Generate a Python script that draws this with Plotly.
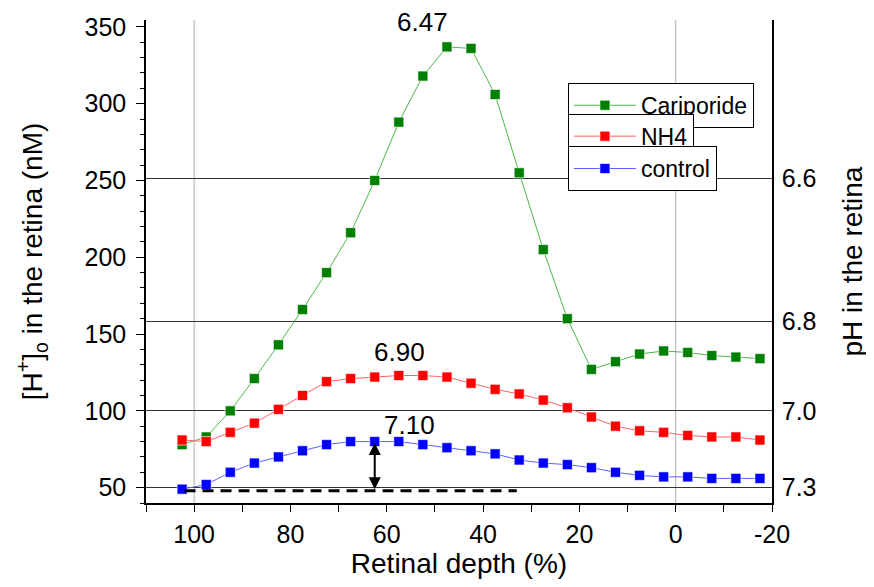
import plotly.graph_objects as go

depth = [102.5, 97.5, 92.5, 87.5, 82.5, 77.5, 72.5, 67.5, 62.5, 57.5, 52.5, 47.5, 42.5,
         37.5, 32.5, 27.5, 22.5, 17.5, 12.5, 7.5, 2.5, -2.5, -7.5, -12.5, -17.5]

cariporide = [78, 83, 100, 121, 143, 166, 190, 216, 250, 288, 318, 337, 336,
              306, 255, 205, 160, 127, 132, 137, 139, 138, 136, 135, 134]
nh4 = [81, 80, 86, 92, 101, 110, 119, 121, 122, 123, 123, 122, 118,
       114, 111, 107, 102, 96, 90, 87, 86, 84, 83, 83, 81]
control = [49, 52, 60, 66, 70, 74, 78, 80, 80, 80, 78, 76, 74,
           72, 68, 66, 65, 63, 60, 58, 57, 57, 56, 56, 56]

x_tick_vals = [100, 80, 60, 40, 20, 0, -20]
x_tick_text = ["100", "80", "60", "40", "20", "0", "-20"]
y_tick_vals = [50, 100, 150, 200, 250, 300, 350]

ph_tick_vals = [251.2, 158.5, 100.0, 50.1]
ph_tick_text = ["6.6", "6.8", "7.0", "7.3"]

baseline_x = [102.0, 33.0]
baseline_y = [48.0, 48.0]

peak_label = "6.47"
peak_label_x = 52.5
labels_text = ["6.90", "7.10"]
labels_x = [57.3, 55.2]
labels_y = [138.0, 91.0]

arrow_x = 62.5
arrow_low = 49.0
arrow_high = 80.0

FONT = "Arial, Liberation Sans, sans-serif"
TICK = 25
TITLE = 28

fig = go.Figure()

series = [
    ("Cariporide", cariporide, "#007F00", "#4CB84C", "legend"),
    ("NH4", nh4, "#FF0000", "#FF6060", "legend2"),
    ("control", control, "#0000FF", "#6060FF", "legend3"),
]
for name, vals, mcol, lcol, leg in series:
    fig.add_trace(go.Scatter(
        x=depth, y=vals, name=name, mode="lines+markers",
        line=dict(color=lcol, width=1),
        marker=dict(symbol="square", size=10, color=mcol,
                    line=dict(color="rgba(255,255,255,0.6)", width=1)),
        legend=leg,
    ))

fig.add_trace(go.Scatter(
    x=baseline_x, y=baseline_y, mode="lines", showlegend=False,
    line=dict(color="black", width=3, dash="11px,7px"),
))

# pH axis helper trace
fig.add_trace(go.Scatter(x=[None], y=[None], yaxis="y2", showlegend=False))

# vertical gridlines at 100 and 0
for xv in [100, 0]:
    fig.add_shape(type="line", xref="x", yref="paper", x0=xv, x1=xv, y0=0, y1=1,
                  line=dict(color="#B0B0B0", width=1), layer="below")

fig.add_annotation(x=peak_label_x, y=0.995, xref="x", yref="paper", yanchor="middle",
                   text=peak_label, showarrow=False, borderpad=0,
                   font=dict(family=FONT, size=26, color="black"))
for t, xx, yy in zip(labels_text, labels_x, labels_y):
    fig.add_annotation(x=xx, y=yy, text=t, showarrow=False,
                       font=dict(family=FONT, size=26, color="black"))

fig.add_annotation(x=arrow_x, y=arrow_low, ax=arrow_x, ay=arrow_high,
                   xref="x", yref="y", axref="x", ayref="y", text="",
                   showarrow=True, arrowhead=2, startarrowhead=2,
                   arrowside="end+start", arrowwidth=2, arrowsize=1.2,
                   startarrowsize=1.2, arrowcolor="black")

yrange = [40, 354.5]

leg_common = dict(xanchor="left", yanchor="top", bordercolor="black", borderwidth=1,
                  bgcolor="white", font=dict(family=FONT, size=23), itemwidth=62)

# page body has an 8px margin, so the figure is drawn 8px smaller with shifted margins
fig.update_layout(
    width=866, height=579,
    margin=dict(l=138, r=102, t=12, b=84),
    paper_bgcolor="white", plot_bgcolor="white",
    font=dict(family=FONT, size=TICK, color="black"),
    xaxis=dict(
        range=[110, -20], tickvals=x_tick_vals, ticktext=x_tick_text,
        ticks="outside", ticklen=7, tickwidth=1, tickcolor="black",
        minor=dict(tickvals=[110, 90, 70, 50, 30, 10, -10], ticks="outside",
                   ticklen=7, tickcolor="black"),
        showline=True, linecolor="black", linewidth=1.5,
        showgrid=False, zeroline=False, automargin=False,
        ticklabelstandoff=1,
        tickfont=dict(family=FONT, size=TICK),
        title=dict(text="Retinal depth (%)", font=dict(family=FONT, size=TITLE), standoff=4),
    ),
    yaxis=dict(
        range=yrange, tickvals=y_tick_vals,
        ticks="outside", ticklen=8, tickwidth=1, tickcolor="black",
        minor=dict(dtick=10, ticks="outside", ticklen=4, tickcolor="black"),
        showline=True, linecolor="black", linewidth=1.5,
        showgrid=False, zeroline=False, automargin=False,
        ticklabelstandoff=5,
        tickfont=dict(family=FONT, size=TICK),
        title=dict(text="[H<sup>+</sup>]<sub>o</sub> in the retina (nM)",
                   font=dict(family=FONT, size=TITLE), standoff=34),
    ),
    yaxis2=dict(
        range=yrange, overlaying="y", side="right", anchor="x",
        tickvals=ph_tick_vals, ticktext=ph_tick_text, ticks="",
        showline=True, linecolor="black", linewidth=1.5,
        showgrid=True, gridcolor="#333333", gridwidth=1, zeroline=False,
        automargin=False, ticklabelstandoff=3,
        tickfont=dict(family=FONT, size=TICK),
        title=dict(text="pH in the retina", font=dict(family=FONT, size=TITLE), standoff=27),
    ),
    legend=dict(x=0.674, y=0.870, **leg_common),
    legend2=dict(x=0.674, y=0.806, **leg_common),
    legend3=dict(x=0.674, y=0.739, **leg_common),
    showlegend=True,
)

fig.write_html("out.html")
